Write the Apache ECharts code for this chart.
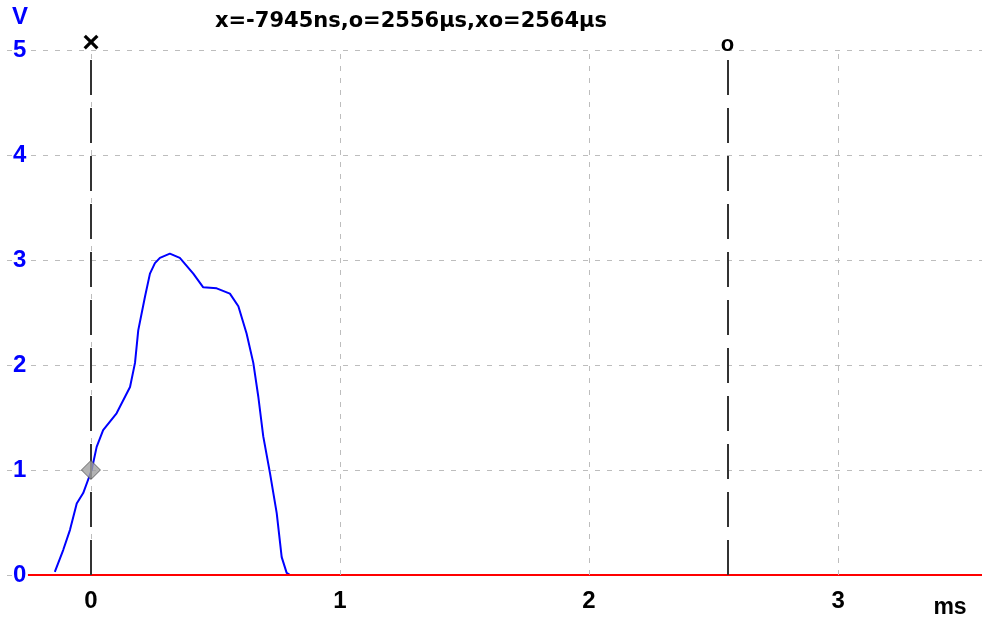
<!DOCTYPE html>
<html>
<head>
<meta charset="utf-8">
<script src="https://cdn.jsdelivr.net/npm/echarts@6/dist/echarts.min.js"></script>
<style>html,body{margin:0;padding:0;background:#fff;}#c{width:982px;height:627px;}</style>
</head>
<body>
<div id="c"></div>
<script>
// ---- data ----
const timeMs = [-0.145,-0.111,-0.084,-0.057,-0.031,0.003,0.023,0.049,0.103,0.157,0.177,0.19,0.217,0.237,0.257,0.277,0.317,0.357,0.411,0.451,0.505,0.558,0.592,0.625,0.652,0.672,0.692,0.719,0.746,0.766,0.786,0.80];
const voltsA = [0.03,0.24,0.43,0.68,0.78,1.0,1.22,1.38,1.54,1.79,2.02,2.33,2.65,2.87,2.97,3.02,3.06,3.02,2.87,2.74,2.73,2.68,2.56,2.30,2.02,1.70,1.32,0.97,0.59,0.17,0.02,0];
const zeroT = [-0.253, 3.578];
const zeroV = [0, 0];
const xTicks = [0, 1, 2, 3];
const yTicks = [0, 1, 2, 3, 4, 5];
const cursorNames = ['×', 'o'];
const cursorTimes = [0, 2.556];
const cursorTop = 4.914;
const markerPoint = [0, 1.0];
const titleText = 'x=-7945ns,o=2556µs,xo=2564µs';

const chart = echarts.init(document.getElementById('c'), null, {renderer: 'canvas'});
const gridGray = '#bdbdbd';
const option = {
  animation: false,
  backgroundColor: '#ffffff',
  grid: {left: 7, right: 0, top: 50, bottom: 52, containLabel: false},
  graphic: [
    {type: 'text', x: 411, y: 22, style: {text: titleText, fill: '#000', font: 'bold 21px "DejaVu Sans"', textAlign: 'center', textVerticalAlign: 'middle'}},
    {type: 'text', x: 20, y: 17, style: {text: 'V', fill: '#0000ff', font: 'bold 24px "Liberation Sans"', textAlign: 'center', textVerticalAlign: 'middle'}},
    {type: 'text', x: 950, y: 608, style: {text: 'ms', fill: '#000', font: 'bold 23px "Liberation Sans"', textAlign: 'center', textVerticalAlign: 'middle'}}
  ],
  xAxis: {
    type: 'value', min: -0.337, max: 3.578, splitNumber: 4,
    axisLine: {show: false}, axisTick: {show: false}, splitLine: {show: false},
    axisLabel: {
      margin: 14, color: '#000', fontWeight: 'bold', fontSize: 24, fontFamily: 'Liberation Sans',
      showMinLabel: false, showMaxLabel: false,
      formatter: v => (xTicks.indexOf(Math.round(v * 1000) / 1000) >= 0 ? String(Math.round(v)) : '')
    }
  },
  yAxis: {
    type: 'value', min: yTicks[0], max: yTicks[yTicks.length - 1], interval: 1,
    axisLine: {show: false}, axisTick: {show: false},
    splitLine: {show: true, lineStyle: {color: gridGray, width: 1, type: [5, 7]}},
    axisLabel: {
      inside: true, margin: 5, color: '#0000ff', fontWeight: 'bold', fontSize: 24, fontFamily: 'Liberation Sans',
      backgroundColor: '#ffffff', padding: [0, 2, 0, 1]
    }
  },
  series: [
    {
      type: 'line', name: 'grid', data: [], silent: true,
      markLine: {
        silent: true, symbol: ['none', 'none'], label: {show: false},
        lineStyle: {color: gridGray, width: 1, type: [5, 7]},
        data: xTicks.map(t => ({xAxis: t}))
      }
    },
    {
      type: 'line', name: 'A', data: timeMs.map((t, i) => [t, voltsA[i]]),
      showSymbol: false, smooth: false, z: 3,
      lineStyle: {color: '#0000ff', width: 2}
    },
    {
      type: 'line', name: 'B', data: zeroT.map((t, i) => [t, zeroV[i]]),
      showSymbol: false, z: 4,
      lineStyle: {color: '#ff0000', width: 2}
    },
    {
      type: 'line', name: 'cursors', data: [], silent: true, z: 5,
      markLine: {
        silent: true, symbol: ['none', 'none'],
        lineStyle: {color: '#333333', width: 2, type: [35, 13]},
        label: {show: true, position: 'end', distance: 3, color: '#000', fontWeight: 'bold', fontSize: 22, fontFamily: 'Liberation Sans'},
        data: cursorTimes.map((t, i) => [
          {coord: [t, 0]},
          {coord: [t, cursorTop], label: {formatter: cursorNames[i], fontSize: i === 0 ? 30 : 22, distance: i === 0 ? 0 : 3}}
        ])
      }
    },
    {
      type: 'scatter', name: 'marker', data: [markerPoint], z: 6,
      symbol: 'diamond', symbolSize: [19, 19],
      itemStyle: {color: '#a0a0a0', borderColor: '#505050', borderWidth: 1}
    }
  ]
};
chart.setOption(option);
</script>
</body>
</html>
